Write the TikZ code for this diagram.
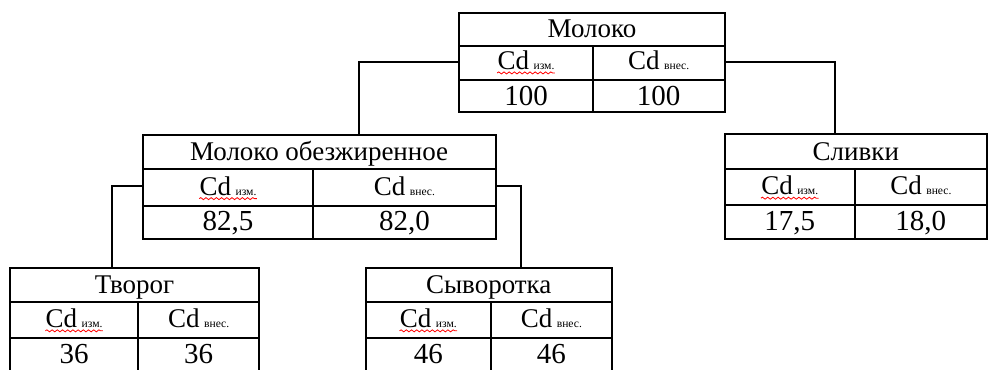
\documentclass[tikz,border=0pt]{standalone}
\usepackage{fontspec}
\setmainfont{Liberation Serif}
\usetikzlibrary{calc,fit,decorations.pathmorphing}

\newlength\cdw
\newcommand{\cdsub}[1]{\,{\fontsize{5.8}{6}\selectfont #1}}

% #1 name, #2 left, #3 middle, #4 right, #5 top, #6 bottom, #7 title, #8/#9 values
\newcommand{\cdtable}[9]{%
  \coordinate (#1-nw) at (#2,#5);
  \coordinate (#1-se) at (#4,#6);
  \coordinate (#1-m)  at (#3,#6);
  \node[tabbox, fit=(#1-nw)(#1-se)] (#1) {};
  \coordinate (#1-a) at ($(#1.north west)!0.33!(#1.south west)$);
  \coordinate (#1-b) at ($(#1.north west)!0.68!(#1.south west)$);
  \coordinate (#1-l) at ($(#1.north west)!0.49!(#1.south west)$);
  \coordinate (#1-r) at ($(#1.north east)!0.49!(#1.south east)$);
  \coordinate (#1-cl) at ($(#1-b -| #1.west)!0.5!(#1-b -| #1-m)$);
  \coordinate (#1-cr) at ($(#1-b -| #1-m)!0.5!(#1-b -| #1.east)$);
  \draw[grid] (#1-a) -- (#1-a -| #1.east);
  \draw[grid] (#1-b) -- (#1-b -| #1.east);
  \draw[grid] (#1-a -| #1-m) -- (#1-m);
  \node[cell] (#1-t)   at ($(#1-a -| #1)+(0,-8.5)$) {#7};
  \node[cell] (#1-cdl) at ($(#1-cl)+(0,-10.5)$) {Cd\cdsub{изм.}};
  \node[cell] (#1-cdr) at ($(#1-cr)+(0,-10.5)$) {Cd\cdsub{внес.}};
  \node[cell, font=\fontsize{14.5}{16}\selectfont] (#1-vl) at ($(#1-cl)+(0,25)$) {#8};
  \node[cell, font=\fontsize{14.5}{16}\selectfont] (#1-vr) at ($(#1-cr)+(0,25)$) {#9};
  \draw[squig] ([yshift=-1.6pt]#1-cdl.base west) -- ([yshift=-1.6pt]#1-cdl.base east);
  \draw[squig] ([yshift=-1.6pt]#1-cdr.base west) -- ([xshift=\cdw,yshift=-1.6pt]#1-cdr.base west);
}

\begin{document}
\begin{tikzpicture}[
    x=0.5pt, y=-0.5pt,
    % Table frame
    tabbox/.style={
        draw, line width=1pt, inner sep=0pt, outer sep=0pt
    },
    % Inner rules of a table
    grid/.style={draw, line width=1pt},
    % Cell texts
    cell/.style={
        anchor=base, inner sep=0pt, font=\fontsize{13.5}{15}\selectfont
    },
    % Spell-check underline
    squig/.style={
        draw=red, line width=0.4pt, decorate,
        decoration={snake, amplitude=0.5pt, segment length=2.6pt}
    },
    link/.style={draw, line width=1pt}
]
\clip (0,0) rectangle (989,369);
\settowidth{\cdw}{\fontsize{13.5}{15}\selectfont Cd}

% ---- LEVEL 0: MILK ----
\cdtable{moloko}{459.3}{592.7}{724.7}{13.3}{111.7}{Молоко}{100}{100}

% ---- LEVEL 1: SKIMMED MILK AND CREAM ----
\cdtable{obez}{142.7}{313.3}{495.5}{135}{239.3}{Молоко обезжиренное}{82,5}{82,0}
\cdtable{slivki}{724.7}{854.7}{987}{134.3}{239}{Сливки}{17,5}{18,0}

\draw[link] (moloko-l) -| ([xshift=20.1pt]obez.north);
\draw[link] (moloko-r) -| ([xshift=-10.6pt]slivki.north);

% ---- LEVEL 2: CURD AND WHEY ----
\cdtable{tvorog}{10}{138.3}{259}{268.3}{371}{Творог}{36}{36}
\cdtable{syv}{365.7}{491}{611.7}{268.3}{371}{Сыворотка}{46}{46}

\draw[link] (obez-l) -| ([xshift=-11.1pt]tvorog.north);
\draw[link] (obez-r) -| ([xshift=16.2pt]syv.north);

\end{tikzpicture}
\end{document}
